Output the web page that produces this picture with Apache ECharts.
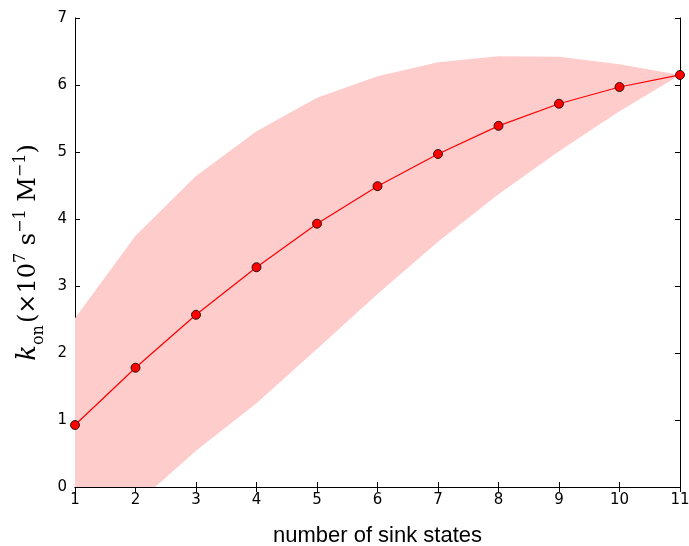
<!DOCTYPE html>
<html><head><meta charset="utf-8">
<script src="https://cdn.jsdelivr.net/npm/echarts@6/dist/echarts.min.js"></script>
<style>html,body{margin:0;padding:0;background:#fff}#c{width:689px;height:546px}</style>
</head><body><div id="c"></div>
<script>
const categories = [1,2,3,4,5,6,7,8,9,10,11];
const kon = [0.925,1.78,2.57,3.28,3.93,4.49,4.97,5.39,5.72,5.97,6.15];
const upper = [2.52,3.75,4.64,5.31,5.81,6.13,6.34,6.43,6.42,6.31,6.15];
const lower = [-1.1,-0.26,0.54,1.25,2.06,2.88,3.66,4.37,5.01,5.61,6.15];
const yTicks = [0,1,2,3,4,5,6,7];

const pts = d => categories.map((x,i)=>[x,d[i]]);

const chart = echarts.init(document.getElementById('c'));
const axisLine = {show:true, lineStyle:{color:'#000', width:1}};
const tick = {show:true, inside:true, length:5, lineStyle:{color:'#000'}};
const lab = {color:'#000', fontSize:15, fontFamily:'DejaVu Sans'};
chart.setOption({
  animation:false,
  grid:{left:75, right:9, top:18, bottom:59, outerBoundsMode:'none', containLabel:false},
  xAxis:[
    {type:'value', min:1, max:11, interval:1, position:'bottom',
     axisLine, axisTick:tick, splitLine:{show:false},
     axisLabel:{...lab, margin:6},
     name:'number of sink states', nameLocation:'middle', nameGap:38,
     nameTextStyle:{color:'#000', fontSize:22, fontFamily:'Liberation Sans'}},
    {type:'value', min:1, max:11, interval:1, position:'top',
     axisLine, axisTick:tick, splitLine:{show:false}, axisLabel:{show:false}}
  ],
  yAxis:[
    {type:'value', min:yTicks[0], max:yTicks[yTicks.length-1], interval:1, position:'left',
     axisLine, axisTick:tick, splitLine:{show:false},
     axisLabel:{...lab, margin:8},
     name:'{k|k}{sub|on}{n|(×10}{sup|7}{n| s}{sup|−1}{n| M}{sup|−1}{n|)}',
     nameLocation:'middle', nameGap:30, nameRotate:90,
     nameTextStyle:{color:'#000', rich:{
       k:{fontSize:26, fontStyle:'italic', fontFamily:'DejaVu Serif', color:'#000', lineHeight:32, verticalAlign:'middle'},
       n:{fontSize:24, fontFamily:'DejaVu Serif', color:'#000', lineHeight:32, verticalAlign:'middle'},
       sub:{fontSize:16, fontFamily:'DejaVu Serif', color:'#000', lineHeight:32, verticalAlign:'bottom', padding:[0,2,-2,0]},
       sup:{fontSize:16, fontFamily:'DejaVu Serif', color:'#000', lineHeight:32, verticalAlign:'top', padding:[0,0,0,0]}
     }}},
    {type:'value', min:yTicks[0], max:yTicks[yTicks.length-1], interval:1, position:'right',
     axisLine, axisTick:tick, splitLine:{show:false}, axisLabel:{show:false}}
  ],
  series:[
    {type:'custom', clip:true, z:1, data:[0],
     renderItem:function(params, api){
       const top = categories.map((x,i)=>api.coord([x, upper[i]]));
       const bot = categories.map((x,i)=>api.coord([x, lower[i]])).reverse();
       const poly = {type:'polygon', shape:{points: top.concat(bot)},
         style:{fill:'#ffcccc', stroke:null}};
       return {type:'group', children:[poly]};
     }},
    {type:'line', data:pts(kon), symbol:'circle', symbolSize:9,
     lineStyle:{color:'#ff0000', width:1.2},
     itemStyle:{color:'#ff0000', borderColor:'#000', borderWidth:0.8}, clip:false, z:5}
  ]
});
</script></body></html>
